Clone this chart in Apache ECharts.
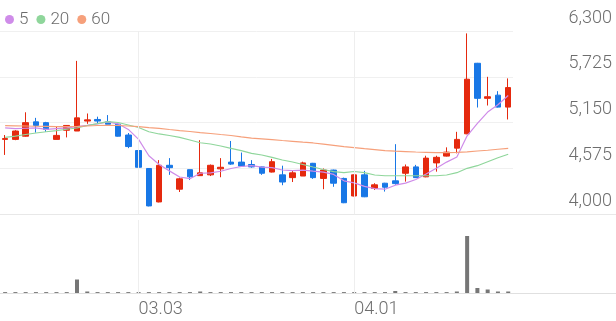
<!DOCTYPE html>
<html><head><meta charset="utf-8">
<script src="https://cdn.jsdelivr.net/npm/echarts@6/dist/echarts.min.js"></script>
<style>html,body{margin:0;padding:0;background:#fff}#c{width:616px;height:321px}</style>
</head><body><div id="c"></div>
<script>
const dates = ['02.06','02.09','02.10','02.11','02.12','02.13','02.19','02.20','02.23','02.24','02.25','02.26','02.27','03.03','03.04','03.05','03.06','03.09','03.10','03.11','03.12','03.13','03.16','03.17','03.18','03.19','03.20','03.23','03.24','03.25','03.26','03.27','03.30','03.31','04.01','04.02','04.03','04.06','04.07','04.08','04.09','04.10','04.13','04.14','04.15','04.16','04.17','04.20','04.21','04.22'];
const xTickLabels = ['03.03','04.01'];
const yTicks = [4000,4575,5150,5725,6300];
const open  = [4940,4940,4980,5160,5150,4940,5055,5045,5170,5190,5160,5130,4995,4800,4575,4155,4615,4315,4560,4485,4495,4570,4655,4655,4625,4595,4530,4495,4460,4480,4640,4450,4555,4450,4230,4495,4325,4390,4420,4515,4595,4470,4645,4730,4830,5010,5895,5455,5495,5345];
const close = [4950,5045,5150,5115,5065,4990,5115,5210,5185,5170,5130,4980,4850,4590,4105,4615,4585,4445,4470,4520,4615,4590,4630,4605,4595,4515,4660,4405,4520,4645,4460,4555,4390,4145,4495,4220,4370,4340,4385,4595,4460,4705,4715,4780,4940,5695,5455,5475,5345,5590];
const low   = [4745,4930,4975,5025,5035,4940,4965,5045,5135,5135,5130,4975,4830,4585,4100,4150,4495,4280,4430,4485,4480,4465,4620,4595,4585,4495,4525,4365,4405,4480,4445,4315,4345,4140,4225,4215,4305,4285,4370,4410,4455,4465,4535,4725,4765,5005,5340,5365,5340,5190];
const high  = [4995,5055,5280,5210,5160,5100,5120,5925,5265,5225,5245,5140,5020,4930,4580,4680,4705,4460,4560,4930,4625,4705,4920,4775,4680,4600,4695,4610,4555,4660,4645,4575,4560,4460,4500,4545,4390,4395,4880,4625,4620,4735,4735,4840,5035,6270,5900,5725,5545,5705];
const ma5   = [5085,5075,5080,5085,5065,5075,5085,5100,5115,5135,5160,5135,5065,4940,4735,4625,4545,4468,4447,4515,4520,4540,4575,4600,4610,4592,4585,4556,4548,4555,4542,4530,4500,4420,4395,4350,4322,4315,4365,4392,4437,4505,4578,4655,4720,4985,5140,5283,5375,5490];
const ma20  = [4966,4982,5001,5020,5036,5051,5067,5083,5114,5137,5162,5152,5121,5089,5036,5008,4989,4966,4932,4898,4882,4857,4828,4798,4765,4744,4715,4681,4656,4625,4593,4562,4535,4522,4537,4522,4493,4484,4484,4484,4484,4484,4484,4493,4522,4577,4610,4660,4710,4753];
const ma60  = [5112,5110,5108,5105,5103,5100,5099,5102,5108,5114,5117,5114,5108,5099,5088,5078,5064,5051,5039,5026,5014,5001,4989,4972,4957,4947,4937,4926,4916,4905,4895,4880,4865,4849,4837,4824,4812,4799,4792,4787,4782,4778,4774,4774,4777,4784,4794,4804,4816,4828];
const volume = [18000,18000,18000,18000,18000,18000,18000,270000,30000,18000,18000,18000,18000,18000,18000,18000,18000,18000,18000,30000,18000,18000,18000,18000,18000,18000,18000,18000,18000,18000,18000,18000,18000,18000,18000,18000,18000,18000,40000,18000,18000,18000,18000,18000,30000,1140000,100000,70000,30000,30000];
const emptySlots = 10;

const RED = '#e5290e', BLUE = '#1877e6';
const cats = dates.concat(Array(emptySlots).fill(''));
const kdata = dates.map((d,i)=>[open[i],close[i],low[i],high[i]]);
const FONT = 'Roboto';
const vline = {symbol:'none', silent:true, label:{show:false}, lineStyle:{color:'#eeeeee', width:1, type:'solid'}, data: xTickLabels.map(v=>({xAxis:v}))};

const chart = echarts.init(document.getElementById('c'), null, {renderer:'canvas'});
chart.setOption({
  animation:false,
  backgroundColor:'#ffffff',
  legend:{left:0, top:6, icon:'circle', itemWidth:9, itemHeight:9, itemGap:8, data:['5','20','60'],
    textStyle:{fontSize:17, color:'#6b6b6b', fontFamily:FONT, fontWeight:300}},
  grid:[
    {left:0, right:0, top:31, bottom:106.7},
    {left:0, right:0, top:220, bottom:28},
    {left:0, right:103, top:31, bottom:106.7}
  ],
  xAxis:[
    {type:'category', gridIndex:0, data:cats, axisLine:{show:true, lineStyle:{color:'#e8e8e8'}}, axisTick:{show:false}, axisLabel:{show:false}, splitLine:{show:false}},
    {type:'category', gridIndex:1, data:cats, axisLine:{show:true, lineStyle:{color:'#e0e0e0'}}, axisTick:{show:false},
      axisLabel:{interval:(i,v)=>xTickLabels.includes(v), align:'left', margin:7, fontSize:18, fontWeight:300, color:'#6e6e6e', fontFamily:FONT}, splitLine:{show:false}},
    {type:'value', gridIndex:2, show:false}
  ],
  yAxis:[
    {type:'value', gridIndex:0, min:yTicks[0], max:yTicks[yTicks.length-1], interval:575, position:'right', scale:true,
      axisLine:{show:false}, axisTick:{show:false}, splitLine:{show:false},
      axisLabel:{inside:true, margin:4, verticalAlign:'bottom', padding:[0,0,4,0], fontSize:18, fontWeight:300, color:'#6e6e6e', fontFamily:FONT,
        formatter:v=>v.toLocaleString('en-US')}},
    {type:'value', gridIndex:1, min:0, max:1460000, show:false},
    {type:'value', gridIndex:2, min:yTicks[0], max:yTicks[yTicks.length-1], interval:575,
      axisLine:{show:false}, axisTick:{show:false}, axisLabel:{show:false}, splitLine:{show:true, lineStyle:{color:'#f0f0f0', width:1}}}
  ],
  series:[
    {type:'candlestick', name:'price', xAxisIndex:0, yAxisIndex:0, data:kdata, barWidth:6,
      itemStyle:{color:RED, color0:BLUE, borderColor:RED, borderColor0:BLUE, borderWidth:1}, markLine:vline, z:3},
    {type:'line', name:'5', xAxisIndex:0, yAxisIndex:0, data:ma5, symbol:'none', color:'#cf8ce9', lineStyle:{width:1.2, color:'#cf8ce9'}, z:4},
    {type:'line', name:'20', xAxisIndex:0, yAxisIndex:0, data:ma20, symbol:'none', color:'#8fd69b', lineStyle:{width:1.2, color:'#8fd69b'}, z:4},
    {type:'line', name:'60', xAxisIndex:0, yAxisIndex:0, data:ma60, symbol:'none', color:'#f6a07b', lineStyle:{width:1.2, color:'#f6a07b'}, z:4},
    {type:'bar', name:'vol', xAxisIndex:1, yAxisIndex:1, data:volume, barWidth:4, itemStyle:{color:'#767676'}, markLine:vline}
  ]
});
</script></body></html>
